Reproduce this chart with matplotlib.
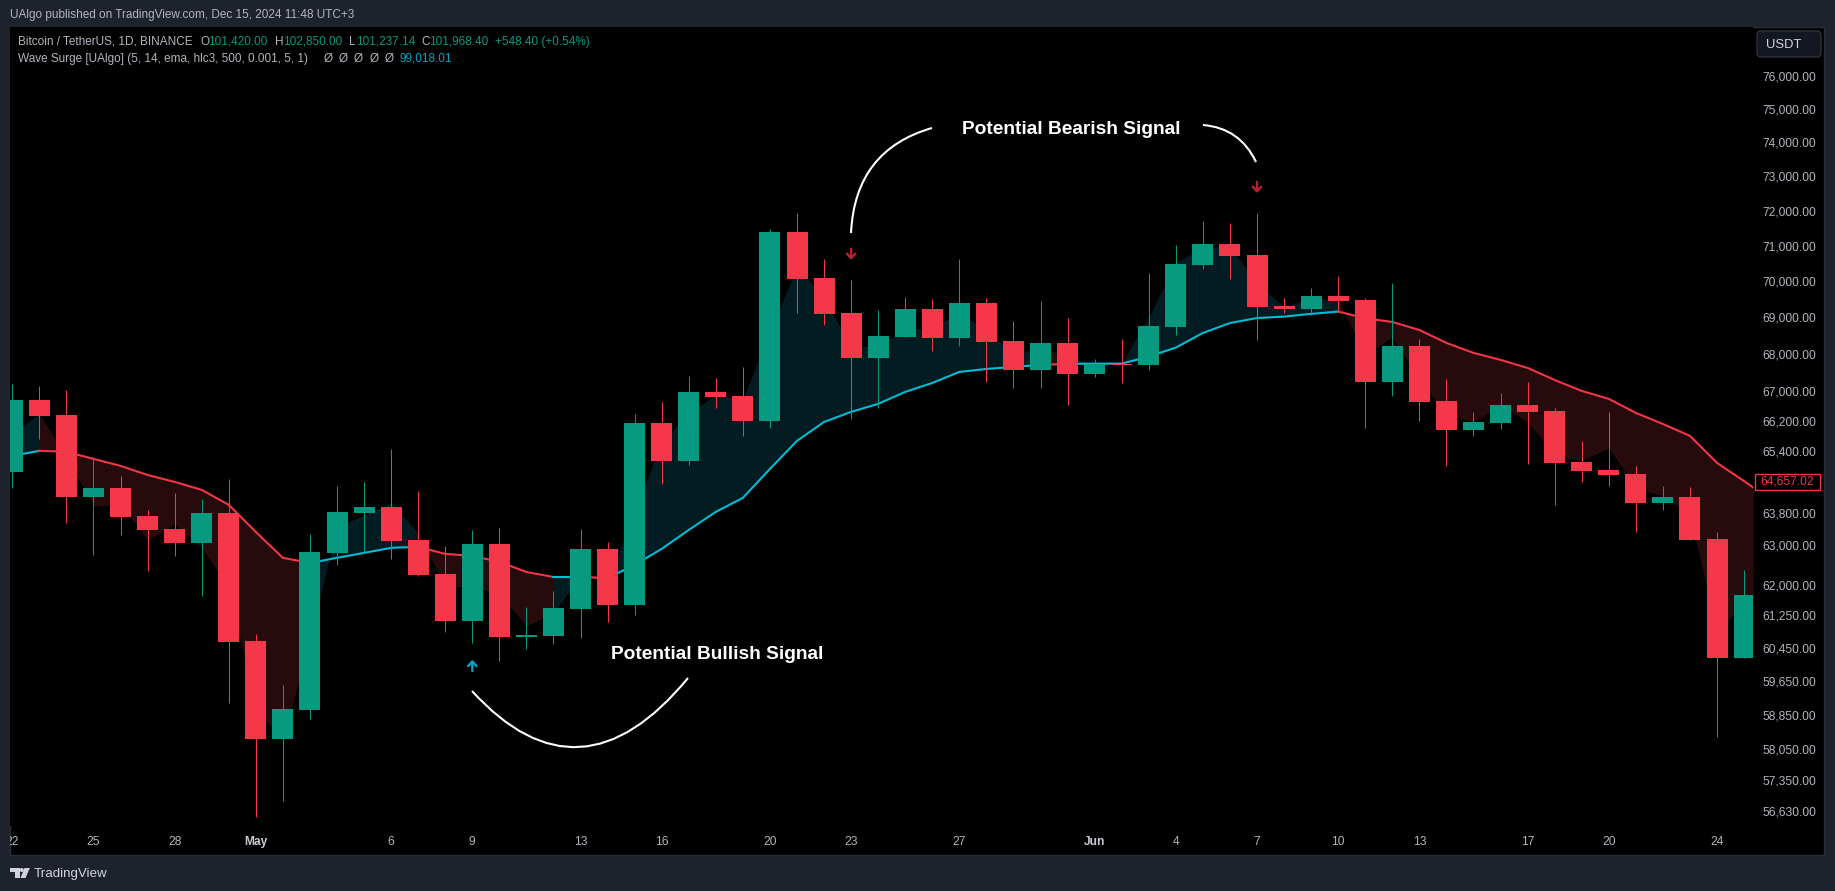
#!/usr/bin/env python3
# -*- coding: utf-8 -*-
"""BTC/USDT daily candles with the Wave Surge indicator, TradingView dark style"""

import numpy as np
import matplotlib
matplotlib.use('Agg')
import matplotlib.pyplot as plt
from matplotlib.patches import Rectangle, FancyBboxPatch, PathPatch, Polygon, Circle
from matplotlib.path import Path
from matplotlib.ticker import NullLocator, NullFormatter
from matplotlib.transforms import Affine2D, Bbox, IdentityTransform, TransformedBbox

W, H = 1835, 891

opens = [64895, 66792, 66392, 64251, 64482, 63764, 63431, 63079, 63841, 60654, 58322, 59002, 62827, 63841, 63994, 63154,
         62299, 61140, 63054, 60750, 60775, 61436, 62928, 61534, 66179, 65183, 67006, 66899, 66232, 71432, 70129, 69157,
         67924, 68496, 69268, 68468, 69435, 68387, 67597, 68332, 67488, 67768, 67733, 68768, 70497, 71092, 70780, 69352,
         69268, 69629, 69518, 67273, 68250, 66766, 65994, 66179, 66659, 66499, 65156, 64947, 64842, 64097, 64251, 63179,
         60243]
highs = [67219, 67166, 67059, 65287, 64790, 63917, 64354, 64200, 64713, 60823, 59595, 63305, 64533, 64636, 65497, 64405,
         63003, 63406, 63456, 61485, 61879, 63431, 63104, 66419, 66739, 67433, 67379, 67678, 71517, 71979, 70667, 70074,
         69240, 69601, 69546, 70667, 69574, 68935, 69490, 69018, 67896, 68441, 70270, 71064, 71748, 71690, 71979, 69574,
         69851, 70185, 69574, 69990, 68441, 67353, 66472, 66979, 67273, 66579, 65706, 66472, 65052, 64533, 64507, 63355,
         62400]
lows = [64482, 65758, 63584, 62777, 63280, 62375, 62752, 61756, 59169, 56530, 56894, 58789, 62525, 62852, 62676, 62249,
        60871, 60605, 60171, 60460, 60581, 60726, 61115, 61288, 64584, 65078, 66579, 65837, 66046, 69157, 68824, 66285,
        66579, 68496, 68114, 68250, 67273, 67112, 67112, 66659, 67406, 67246, 67597, 68550, 70384, 70101, 68414, 69157,
        69101, 69185, 66046, 66899, 66232, 65052, 65837, 66020, 65104, 64046, 64636, 64533, 63355, 63917, 63154, 58369,
        60243]
closes = [66792, 66365, 64251, 64482, 63738, 63406, 63079, 63841, 60630, 58322, 59026, 62852, 63866, 63994, 63129, 62274,
          61140, 63054, 60750, 60799, 61460, 62928, 61534, 66179, 65183, 67006, 66872, 66232, 71432, 70101, 69129, 67924,
          68523, 69268, 68468, 69435, 68359, 67597, 68332, 67488, 67760, 67733, 68796, 70518, 71092, 70752, 69324, 69268,
          69629, 69490, 67273, 68250, 66739, 65994, 66205, 66659, 66472, 65130, 64921, 64816, 64097, 64251, 63154, 60243,
          61780]

# indicator, one point past the last candle because it runs off the right edge
slow_line = [65313, 65445, 65418, 65235, 65052, 64816, 64636, 64431, 64046, 63355, 62702, 62576, 62702, 62827, 62953, 62978,
             62802, 62752, 62601, 62349, 62224, 62224, 62199, 62525, 62928, 63406, 63866, 64225, 64973, 65706, 66205, 66472,
             66686, 67006, 67246, 67542, 67624, 67678, 67733, 67760, 67768, 67768, 67958, 68204, 68604, 68876, 69015, 69054,
             69129, 69193, 69010, 68907, 68686, 68332, 68060, 67869, 67651, 67326, 67032, 66819, 66445, 66152, 65837, 65130,
             64657.02, 64174]
fast_line = [65915, 66419, 65287, 64020, 64046, 63154, 63559, 62953, 61953, 59050, 58276, 60702, 63481, 63789, 64097, 63331,
             61978, 61978, 61805, 61017, 61337, 62249, 62101, 63866, 65680, 66445, 66926, 66792, 68686, 70412, 69601, 68196,
             68278, 68686, 68768, 69157, 68686, 68005, 68223, 67951, 67733, 67774, 69046, 70574, 70979, 71007, 69990, 69324,
             69574, 69518, 68005, 68496, 67326, 66392, 66205, 66659, 66205, 65339, 65183, 65523, 64482, 64277, 63789, 60871,
             61583, 62027]
# first segment index of each trend run, 1 = bullish, 0 = bearish
run_starts = [0, 1, 11, 15, 20, 21, 22, 38, 39, 49]
run_trend = [1, 0, 1, 0, 1, 0, 1, 0, 1, 0]

signal_bars = [31, 46, 17]
signal_prices = [70640, 72557, 60195]
signal_dirs = [-1, -1, 1]

price_ticks = [76000, 75000, 74000, 73000, 72000, 71000, 70000, 69000, 68000, 67000, 66200, 65400,
               63800, 63000, 62000, 61250, 60450, 59650, 58850, 58050, 57350, 56630]
time_bars = [0, 3, 6, 9, 14, 17, 21, 24, 28, 31, 35, 40, 43, 46, 49, 52, 56, 59, 63]
time_labels = ['22', '25', '28', 'May', '6', '9', '13', '16', '20', '23', '27', 'Jun', '4', '7', '10', '13', '17', '20', '24']

BG = '#1e222d'
BORDER = '#2a2e39'
MUTED = '#b2b5be'
UP = '#089981'
DOWN = '#f5374a'
LINE_UP = '#00bcd4'
LINE_DOWN = '#f23645'
FILL_UP = '#021c22'
FILL_DOWN = '#270a0c'
CYAN = '#00a5c6'

plt.rcParams['font.family'] = 'Liberation Sans'


def px(x, y):
    # pixel from the top left corner -> figure fraction
    return x / W, 1 - y / H


def label(x, y, s, color=MUTED, size=8.45, weight='normal', ha='left'):
    tx, ty = px(x, y)
    fig.text(tx, ty, s, color=color, fontsize=size, fontweight=weight, va='center', ha=ha, zorder=5)


fig = plt.figure(figsize=(W / 100, H / 100), dpi=100, facecolor=BG)

# black panel behind chart and scales
x0, y0 = px(10, 855)
fig.add_artist(Rectangle((x0, y0), 1814 / W, 828 / H, transform=fig.transFigure, facecolor='black',
                         edgecolor=BORDER, linewidth=1.0, zorder=-1))

ax = fig.add_axes([10 / W, 1 - 826 / H, 1743 / W, 799 / H], facecolor='black')
ax.set_yscale('log')

bars = np.arange(len(opens))
o = np.array(opens, dtype=float)
c = np.array(closes, dtype=float)
colors = [UP if c[i] >= o[i] else DOWN for i in bars]

# fill and line, one trend run at a time
line_x = np.arange(len(slow_line))
for k, start in enumerate(run_starts):
    end = run_starts[k + 1] if k + 1 < len(run_starts) else len(slow_line) - 1
    seg = line_x[start:end + 1]
    slow = np.array(slow_line[start:end + 1])
    fast = np.array(fast_line[start:end + 1])
    ax.fill_between(seg, slow, fast, color=FILL_UP if run_trend[k] else FILL_DOWN, linewidth=0, zorder=1)
    ax.plot(seg, slow, color=LINE_UP if run_trend[k] else LINE_DOWN, linewidth=1.5, zorder=2,
            solid_joinstyle='round')

# candles
ax.vlines(bars, lows, highs, colors=colors, linewidth=0.75, zorder=3)
ax.bar(bars, np.abs(c - o), bottom=np.minimum(o, c), width=0.776, color=colors, linewidth=0, zorder=4)

# signal arrows
for bar, price, d in zip(signal_bars, signal_prices, signal_dirs):
    col = CYAN if d > 0 else '#b8232f'
    ax.annotate('', xy=(bar, price), xytext=(0, -8.0 * d), textcoords='offset points', zorder=5,
                arrowprops=dict(arrowstyle='->,head_length=0.32,head_width=0.3', color=col, lw=1.7,
                                shrinkA=0, shrinkB=0, mutation_scale=10))

ax.set_xlim(-0.085, 64.33)
ax.set_ylim(76000 * np.exp(-(826 - 77) / 2500), 76000 * np.exp(50 / 2500))
for s in ax.spines.values():
    s.set_visible(False)

ax.yaxis.tick_right()
ax.yaxis.set_minor_locator(NullLocator())
ax.yaxis.set_minor_formatter(NullFormatter())
ax.set_yticks(price_ticks)
ax.set_yticklabels([f'{v:,.2f}' for v in price_ticks])
ax.tick_params(axis='y', length=0, pad=6.5, labelsize=8.64, labelcolor=MUTED)
# the labels sit about a pixel too low otherwise
for tick in ax.yaxis.get_major_ticks():
    tick.label2.set_transform(tick.label2.get_transform() + Affine2D().translate(0, 1.2))
ax.set_xticks(time_bars)
ax.set_xticklabels(time_labels)
ax.tick_params(axis='x', length=0, pad=7.0, labelsize=8.64, labelcolor=MUTED)
clip = TransformedBbox(Bbox([[10, 0], [1824, H]]), IdentityTransform())
for lab in ax.get_xticklabels():
    lab.set_clip_box(clip)
    lab.set_clip_on(True)
    if lab.get_text() in ('May', 'Jun'):
        lab.set_fontweight('bold')
        lab.set_color('#c8cbd3')

# last price tag
x0, y0 = px(1754.5, 490)
fig.add_artist(Rectangle((x0, y0), 65 / W, 16 / H, transform=fig.transFigure, facecolor='black',
                         edgecolor=LINE_DOWN, linewidth=1.0, zorder=3))
label(1787, 482, f'{slow_line[-2]:,.2f}', color=LINE_DOWN, size=8.64, ha='center')

# USDT button
x0, y0 = px(1757, 57)
fig.add_artist(FancyBboxPatch((x0 * W, y0 * H), 64, 26, boxstyle='round,pad=0,rounding_size=4',
                              transform=IdentityTransform(), facecolor='#131722', edgecolor='#363a45',
                              linewidth=0.8, zorder=3))
label(1766, 44.5, 'USDT', color='#d1d4dc', size=9.4)

# header
label(10, 14.7, 'UAlgo published on TradingView.com, Dec 15, 2024 11:48 UTC+3')
label(18, 41.7, 'Bitcoin / TetherUS, 1D, BINANCE')
for x, s in [(200, 'O'), (275, 'H'), (349, 'L'), (421.5, 'C')]:
    label(x, 41.7, s)
for x, s in [(208.4, '101,420.00'), (283, '102,850.00'), (356, '101,237.14'), (429, '101,968.40'),
             (495, '+548.40 (+0.54%)')]:
    label(x, 41.7, s, color=UP)
label(18, 58.7, 'Wave Surge [UAlgo] (5, 14, ema, hlc3, 500, 0.001, 5, 1)')
for x in [324, 339, 354, 369.5, 385]:
    label(x, 58.7, '\u00d8')
label(399.8, 58.7, '99,018.01', color=CYAN)

# callouts
label(962, 129.5, 'Potential Bearish Signal', color='white', size=13.8, weight='bold')
label(611, 654.5, 'Potential Bullish Signal', color='white', size=13.8, weight='bold')
curves = [((851, 233), (855, 150), (932, 128)),
          ((1203, 125), (1240, 128), (1256, 162)),
          ((472, 691), (580, 809.5), (688, 678))]
for p0, p1, p2 in curves:
    path = Path([px(*p0), px(*p1), px(*p2)], [Path.MOVETO, Path.CURVE3, Path.CURVE3])
    fig.add_artist(PathPatch(path, transform=fig.transFigure, facecolor='none', edgecolor='white',
                             linewidth=1.5, zorder=5))

# TradingView logo
logo = '#d1d4dc'
fig.add_artist(Polygon([px(10, 868), px(19.5, 868), px(19.5, 878), px(14.5, 878), px(14.5, 872), px(10, 872)],
                       transform=fig.transFigure, facecolor=logo, edgecolor='none', zorder=5))
fig.add_artist(Polygon([px(24.5, 868), px(29.8, 868), px(25.5, 878), px(20.5, 878)],
                       transform=fig.transFigure, facecolor=logo, edgecolor='none', zorder=5))
cx, cy = px(21.8, 870)
fig.add_artist(Circle((cx * W, cy * H), 2, transform=IdentityTransform(), facecolor=logo, edgecolor='none', zorder=5))
label(33.5, 873.7, 'TradingView', color='#d1d4dc', size=9.6)

fig.savefig('out.png', dpi=100, facecolor=BG)
